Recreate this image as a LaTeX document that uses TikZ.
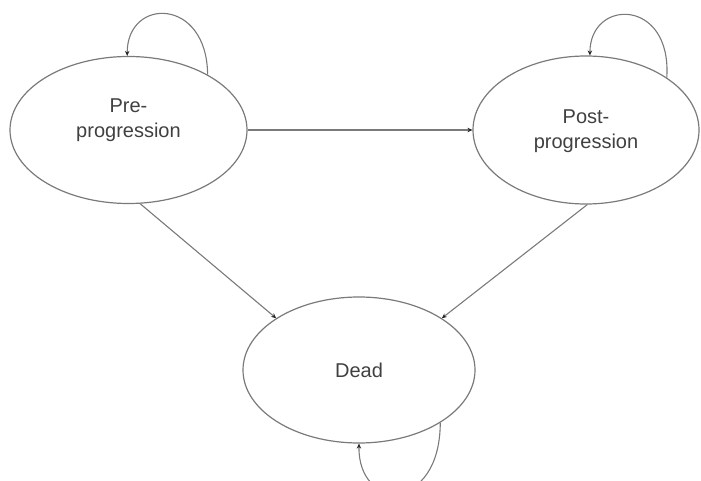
\documentclass[tikz,border=0pt]{standalone}
\usepackage{fontspec}
\setmainfont{Liberation Sans}
\usetikzlibrary{arrows.meta,shapes.geometric}
\definecolor{edgegray}{HTML}{7A7A7A}
\definecolor{txtgray}{HTML}{404040}
\tikzset{
  state/.style={ellipse, draw=edgegray, line width=1.2pt, inner sep=0pt},
  statetext/.style={font=\fontsize{20}{25}\selectfont, text=txtgray, align=center},
  trans/.style={draw=edgegray, line width=1.1pt, -{Stealth[length=5pt,width=4.5pt,color=black!85]}},
}
\begin{document}
\begin{tikzpicture}[x=1pt,y=-1pt]
\useasboundingbox (0,0) rectangle (701,481);
\node[state, minimum width=237pt, minimum height=147pt,
      label={[statetext, yshift=10pt]center:{Pre-\\progression}}] (pre) at (128.5,130) {};
\node[state, minimum width=226pt, minimum height=148pt,
      label={[statetext, yshift=-1pt]center:{Post-\\progression}}] (post) at (586,130) {};
\node[state, minimum width=232pt, minimum height=146pt] (dead) at (359,370) {};
\node[statetext] (deadtext) at (dead.center) {Dead};

% transitions
\draw[trans] (pre.east) -- (post.west);
\draw[trans] (pre.-81) -- (dead.148);
\draw[trans] (post.-89) -- (dead.32.6);

% self loops
\draw[trans] (pre.35) .. controls (207,-3) and (127,-3) .. (pre.91);
\draw[trans] (post.33.5) .. controls (672,-2) and (590,-2) .. (post.87);
\draw[trans] (dead.-33) .. controls (440,512) and (358,512) .. (dead.-90.7);
\end{tikzpicture}
\end{document}
